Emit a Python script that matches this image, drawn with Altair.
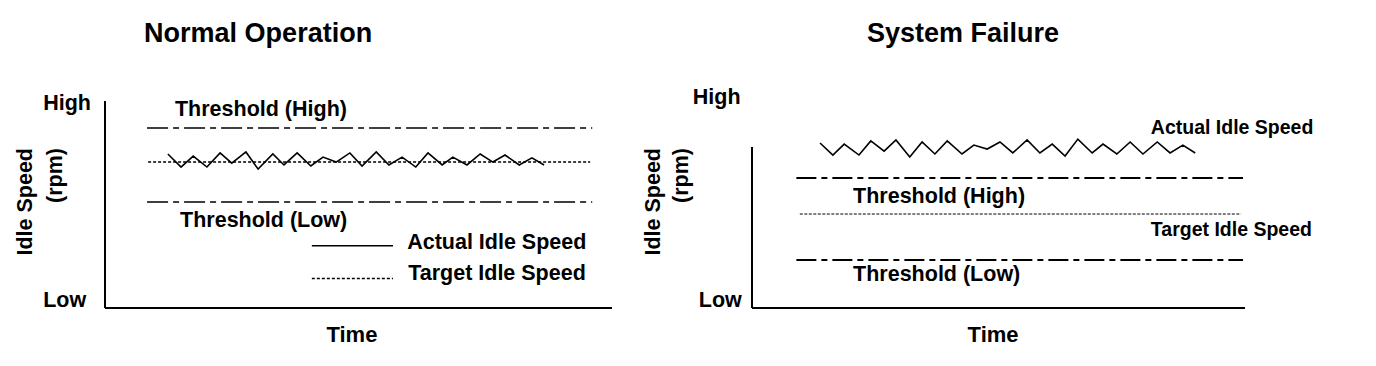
import altair as alt
import pandas as pd

# ---------------- Data (time axis 0..100, idle speed 0 = Low .. 100 = High) ----------------
# Left panel: Normal Operation
N_ACTUAL_T = [12.4, 15.0, 17.4, 20.1, 22.7, 25.0, 27.8, 30.2, 33.1, 35.3, 37.9, 40.6, 43.0, 45.6, 48.3,
              50.7, 53.5, 56.0, 58.6, 61.3, 63.7, 66.5, 68.6, 71.4, 74.0, 76.5, 78.9, 81.7, 84.2, 86.6]
N_ACTUAL_V = [74.4, 68.1, 73.4, 68.1, 74.9, 70.0, 75.4, 67.1, 74.4, 69.1, 74.9, 68.6, 72.9, 70.5, 74.9,
              68.6, 75.4, 69.1, 72.9, 68.1, 74.9, 69.1, 72.9, 69.1, 74.4, 70.5, 73.9, 69.1, 72.5, 69.1]
N_TARGET = 70.5
N_TH_HIGH = 87.0
N_TH_LOW = 51.2
N_TARGET_SPAN = [8.5, 95.7]
N_TH_SPAN = [8.3, 96.1]
N_YAXIS_TOP = 100.0
N_LEGEND_SPAN = [40.8, 56.8]
N_LEGEND_ACTUAL_V = 30.1
N_LEGEND_TARGET_V = 14.3

# Right panel: System Failure
F_ACTUAL_T = [13.8, 16.4, 18.7, 21.7, 24.1, 26.8, 29.2, 32.0, 34.5, 37.1, 39.6, 42.6, 45.0, 47.7, 50.3,
              52.9, 55.8, 58.4, 60.9, 63.5, 66.1, 69.0, 71.2, 74.0, 76.7, 79.3, 82.2, 84.8, 87.4, 89.9]
F_ACTUAL_V = [79.7, 73.9, 79.2, 73.9, 80.7, 75.8, 81.2, 72.9, 80.2, 74.4, 80.7, 74.4, 78.7, 76.8, 80.2,
              74.9, 81.2, 74.9, 79.2, 73.4, 81.6, 74.9, 79.2, 74.4, 80.2, 74.4, 80.2, 74.9, 78.7, 74.9]
F_TARGET = 45.4
F_TH_HIGH = 62.8
F_TH_LOW = 23.2
F_TARGET_SPAN = [9.7, 99.2]
F_TH_SPAN = [9.0, 99.6]
F_YAXIS_TOP = 77.8

# Text labels (anchor positions in the same data units)
N_TITLE = ["Normal Operation", 30.2, 132.4]
F_TITLE = ["System Failure", 42.8, 132.4]
N_LABELS = ["Threshold (High)", "Threshold (Low)", "Actual Idle Speed", "Target Idle Speed"]
N_LABELS_T = [13.8, 14.8, 59.6, 59.8]
N_LABELS_V = [95.6, 41.8, 31.2, 16.2]
F_TH_LABELS = ["Threshold (High)", "Threshold (Low)"]
F_TH_LABELS_T = [20.5, 20.5]
F_TH_LABELS_V = [53.6, 15.9]
F_SERIES_LABELS = ["Actual Idle Speed", "Target Idle Speed"]
F_SERIES_LABELS_T = [80.9, 80.9]
F_SERIES_LABELS_V = [87.0, 37.7]
HL_LABELS = ["High", "Low"]
N_HL_T = [-12.2, -12.2]
N_HL_V = [98.4, 3.6]
F_HL_T = [-12.0, -10.8]
F_HL_V = [101.6, 3.6]
YTITLE_LABELS = ["Idle Speed", "(rpm)"]
N_YTITLE_T = [-15.6, -9.7]
F_YTITLE_T = [-19.9, -14.2]
YTITLE_TOP_V = 77.3
XTITLE = ["Time", -13.0]
N_XTITLE_T = 48.7
F_XTITLE_T = 48.9

FONT = "Liberation Sans"
W_LEFT, W_RIGHT, H = 507, 493, 207


def X(field="t"):
    return alt.X(f"{field}:Q", scale=alt.Scale(domain=[0, 100], nice=False, zero=False), axis=None)


def Y(field="v"):
    return alt.Y(f"{field}:Q", scale=alt.Scale(domain=[0, 100], nice=False, zero=False), axis=None)


def hline(name, span, v):
    return pd.DataFrame({"t": span, "v": [v, v], "name": [name, name]})


def text_layer(labels, ts, vs, size, align="left", angle=None):
    df = pd.DataFrame({"label": labels, "t": ts, "v": vs})
    kw = dict(align=align, baseline="middle", font=FONT, fontSize=size, fontWeight="bold", color="black")
    if angle is not None:
        kw["angle"] = angle
    return alt.Chart(df).mark_text(**kw).encode(x=X(), y=Y(), text="label:N")


def panel(actual_t, actual_v, target, target_span, th_high, th_low, th_span, yaxis_top,
          th_width, th_dash, tg_width, tg_dash):
    axes = pd.DataFrame({"t0": [0, 0], "t1": [0, 100], "v0": [0, 0], "v1": [yaxis_top, 0]})
    axis_layer = alt.Chart(axes).mark_rule(color="black", strokeWidth=2).encode(
        x=X("t0"), x2="t1:Q", y=Y("v0"), y2="v1:Q")
    th_df = pd.concat([hline("Threshold (High)", th_span, th_high),
                       hline("Threshold (Low)", th_span, th_low)])
    th_layer = alt.Chart(th_df).mark_line(color="black", strokeWidth=th_width, strokeDash=th_dash).encode(
        x=X(), y=Y(), detail="name:N")
    tg_layer = alt.Chart(hline("Target Idle Speed", target_span, target)).mark_line(
        color="black", strokeWidth=tg_width, strokeDash=tg_dash).encode(x=X(), y=Y())
    act_df = pd.DataFrame({"t": actual_t, "v": actual_v})
    act_layer = alt.Chart(act_df).mark_line(color="black", strokeWidth=1.6).encode(x=X(), y=Y())
    return [axis_layer, th_layer, tg_layer, act_layer]


# ---------------- Left panel ----------------
left_layers = panel(N_ACTUAL_T, N_ACTUAL_V, N_TARGET, N_TARGET_SPAN, N_TH_HIGH, N_TH_LOW, N_TH_SPAN,
                    N_YAXIS_TOP, 1.5, [21, 5, 6, 5], 1.5, [3, 2])
leg_solid = alt.Chart(hline("Actual Idle Speed", N_LEGEND_SPAN, N_LEGEND_ACTUAL_V)).mark_line(
    color="black", strokeWidth=1.5).encode(x=X(), y=Y())
leg_dot = alt.Chart(hline("Target Idle Speed", N_LEGEND_SPAN, N_LEGEND_TARGET_V)).mark_line(
    color="black", strokeWidth=1.5, strokeDash=[3, 2]).encode(x=X(), y=Y())
left_layers += [
    leg_solid, leg_dot,
    text_layer(N_LABELS, N_LABELS_T, N_LABELS_V, 21.5),
    text_layer(HL_LABELS, N_HL_T, N_HL_V, 21.5),
    text_layer(YTITLE_LABELS, N_YTITLE_T, [YTITLE_TOP_V] * 2, 21.5, align="right", angle=270),
    text_layer([XTITLE[0]], [N_XTITLE_T], [XTITLE[1]], 22, align="center"),
    text_layer([N_TITLE[0]], [N_TITLE[1]], [N_TITLE[2]], 27, align="center"),
]
left = alt.layer(*left_layers).properties(width=W_LEFT, height=H)

# ---------------- Right panel ----------------
right_layers = panel(F_ACTUAL_T, F_ACTUAL_V, F_TARGET, F_TARGET_SPAN, F_TH_HIGH, F_TH_LOW, F_TH_SPAN,
                     F_YAXIS_TOP, 2, [20, 5, 6, 5], 1, [3, 1.5])
right_layers += [
    text_layer(F_TH_LABELS, F_TH_LABELS_T, F_TH_LABELS_V, 21.5),
    text_layer(F_SERIES_LABELS, F_SERIES_LABELS_T, F_SERIES_LABELS_V, 19.5),
    text_layer(HL_LABELS, F_HL_T, F_HL_V, 21.5),
    text_layer(YTITLE_LABELS, F_YTITLE_T, [YTITLE_TOP_V] * 2, 21.5, align="right", angle=270),
    text_layer([XTITLE[0]], [F_XTITLE_T], [XTITLE[1]], 22, align="center"),
    text_layer([F_TITLE[0]], [F_TITLE[1]], [F_TITLE[2]], 27, align="center"),
]
right = alt.layer(*right_layers).properties(width=W_RIGHT, height=H)

chart = alt.hconcat(left, right, spacing=140, bounds="flush").properties(
    autosize=alt.AutoSizeParams(type="none"),
    padding={"left": 105, "top": 101, "right": 1376 - 105, "bottom": 366 - 101},
    background="white",
).configure_view(stroke="transparent")

chart.save("out.html", embed_options={"renderer": "svg", "actions": False})
